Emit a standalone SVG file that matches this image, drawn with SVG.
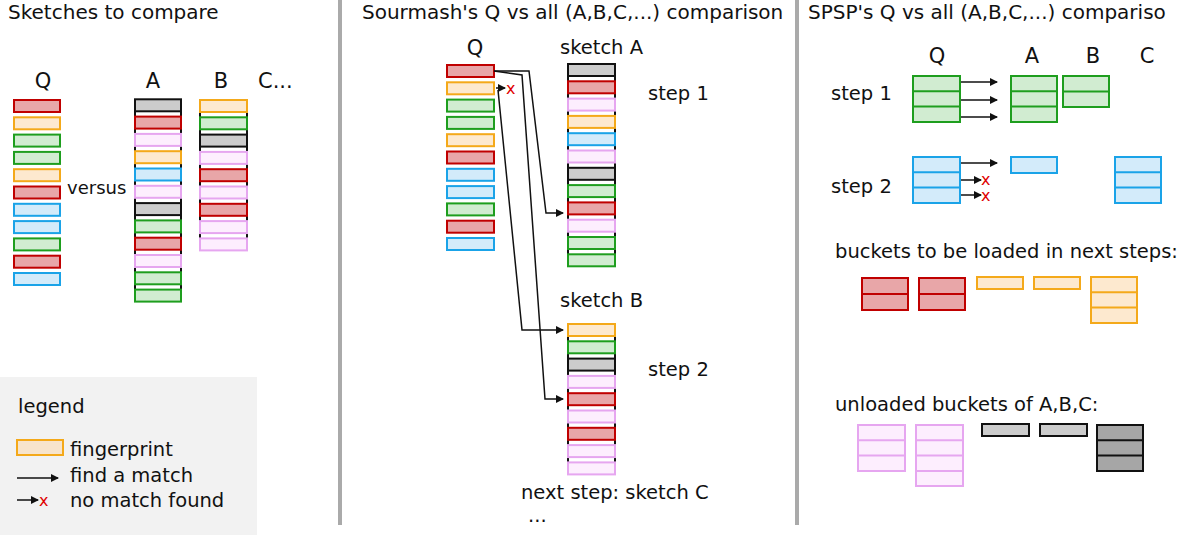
<svg xmlns="http://www.w3.org/2000/svg" width="1200" height="535" viewBox="0 0 1200 535">
<style>
text{font-family:"DejaVu Sans","Liberation Sans",sans-serif;fill:#111}
.t{font-size:19.5px}.h{font-size:20px}.l{font-size:21px}
rect{stroke-width:2}
.r{fill:#e8a6a8;stroke:#c00000}.o{fill:#fde9cf;stroke:#f4a91a}.g{fill:#d1ecd1;stroke:#1e9e1e}
.b{fill:#d3ebfa;stroke:#1aa3e8}.p{fill:#fdeefe;stroke:#e6a6f0}.k{fill:#cccccc;stroke:#111}.d{fill:#a6a6a6;stroke:#111}
.e{stroke:#111;stroke-width:2}
.c{fill:none;stroke:#111;stroke-width:1.5}
.x{fill:#e00000;font-size:16px}
</style>
<defs><marker id="ah" markerWidth="8" markerHeight="8" refX="7" refY="4" orient="auto" markerUnits="userSpaceOnUse"><path d="M0,0L8,4L0,8z" fill="#111"/></marker></defs>
<rect x="0" y="377" width="257" height="158" fill="#f2f2f2" style="stroke:none"/>
<line x1="340" y1="0" x2="340" y2="525" stroke="#aaa" stroke-width="4"/>
<line x1="797" y1="0" x2="797" y2="525" stroke="#aaa" stroke-width="4"/>
<g id="panel1">
<text class="h" x="8" y="19">Sketches to compare</text>
<text class="l" x="43" y="88" text-anchor="middle">Q</text>
<text class="l" x="153" y="88" text-anchor="middle">A</text>
<text class="l" x="221" y="88" text-anchor="middle">B</text>
<text class="l" x="258" y="88">C...</text>
<text x="67" y="194" style="font-size:18px">versus</text>
<g id="q1"><rect class="r" x="14" y="100" width="46" height="12"/><rect class="o" x="14" y="117.3" width="46" height="12"/><rect class="g" x="14" y="134.6" width="46" height="12"/><rect class="g" x="14" y="151.9" width="46" height="12"/><rect class="o" x="14" y="169.2" width="46" height="12"/><rect class="r" x="14" y="186.5" width="46" height="12"/><rect class="b" x="14" y="203.8" width="46" height="12"/><rect class="b" x="14" y="221.1" width="46" height="12"/><rect class="g" x="14" y="238.4" width="46" height="12"/><rect class="r" x="14" y="255.7" width="46" height="12"/><rect class="b" x="14" y="273" width="46" height="12"/></g>
<g id="a1"><line class="e" x1="135" y1="99" x2="135" y2="299"/><line class="e" x1="181" y1="99" x2="181" y2="299"/>
<rect class="k" x="135" y="99.3" width="46" height="12"/><rect class="r" x="135" y="116.6" width="46" height="12"/><rect class="p" x="135" y="133.9" width="46" height="12"/><rect class="o" x="135" y="151.2" width="46" height="12"/><rect class="b" x="135" y="168.5" width="46" height="12"/><rect class="p" x="135" y="185.8" width="46" height="12"/><rect class="k" x="135" y="203.1" width="46" height="12"/><rect class="g" x="135" y="220.4" width="46" height="12"/><rect class="r" x="135" y="237.7" width="46" height="12"/><rect class="p" x="135" y="255" width="46" height="12"/><rect class="g" x="135" y="272.3" width="46" height="12"/><rect class="g" x="135" y="289.6" width="46" height="12"/></g>
<g id="b1"><line class="e" x1="200" y1="100" x2="200" y2="245"/><line class="e" x1="247" y1="100" x2="247" y2="245"/>
<rect class="o" x="200" y="100" width="47" height="12"/><rect class="g" x="200" y="117.3" width="47" height="12"/><rect class="k" x="200" y="134.6" width="47" height="12"/><rect class="p" x="200" y="151.9" width="47" height="12"/><rect class="r" x="200" y="169.2" width="47" height="12"/><rect class="p" x="200" y="186.5" width="47" height="12"/><rect class="r" x="200" y="203.8" width="47" height="12"/><rect class="p" x="200" y="221.1" width="47" height="12"/><rect class="p" x="200" y="238.4" width="47" height="12"/></g>
</g>
<g id="legend">
<text class="t" x="18" y="413">legend</text>
<rect class="o" x="17" y="440" width="46" height="15" style="fill:#f7e4cc"/>
<text class="t" x="70" y="456">fingerprint</text>
<line class="c" x1="17" y1="478" x2="58" y2="478" marker-end="url(#ah)"/>
<text class="t" x="70" y="482">find a match</text>
<line class="c" x1="17" y1="500" x2="38" y2="500" marker-end="url(#ah)"/>
<text class="x" x="39" y="506">x</text>
<text class="t" x="70" y="507">no match found</text>
</g>
<g id="panel2">
<text class="h" x="362" y="19">Sourmash's Q vs all (A,B,C,...) comparison</text>
<text class="l" x="475" y="55" text-anchor="middle">Q</text>
<text class="t" x="560" y="54">sketch A</text>
<text class="t" x="560" y="307">sketch B</text>
<text class="t" x="648" y="100">step 1</text>
<text class="t" x="648" y="376">step 2</text>
<text class="t" x="521" y="499">next step: sketch C</text>
<text class="t" x="528" y="522">...</text>
<g id="q2"><rect class="r" x="447" y="65" width="47" height="12"/><rect class="o" x="447" y="82.3" width="47" height="12"/><rect class="g" x="447" y="99.6" width="47" height="12"/><rect class="g" x="447" y="116.9" width="47" height="12"/><rect class="o" x="447" y="134.2" width="47" height="12"/><rect class="r" x="447" y="151.5" width="47" height="12"/><rect class="b" x="447" y="168.8" width="47" height="12"/><rect class="b" x="447" y="186.1" width="47" height="12"/><rect class="g" x="447" y="203.4" width="47" height="12"/><rect class="r" x="447" y="220.7" width="47" height="12"/><rect class="b" x="447" y="238" width="47" height="12"/></g>
<g id="a2"><line class="e" x1="568" y1="64" x2="568" y2="266"/><line class="e" x1="615" y1="64" x2="615" y2="266"/>
<rect class="k" x="568" y="64" width="47" height="12"/><rect class="r" x="568" y="81.3" width="47" height="12"/><rect class="p" x="568" y="98.6" width="47" height="12"/><rect class="o" x="568" y="115.9" width="47" height="12"/><rect class="b" x="568" y="133.2" width="47" height="12"/><rect class="p" x="568" y="150.5" width="47" height="12"/><rect class="k" x="568" y="167.8" width="47" height="12"/><rect class="g" x="568" y="185.1" width="47" height="12"/><rect class="r" x="568" y="202.4" width="47" height="12"/><rect class="p" x="568" y="219.7" width="47" height="12"/><rect class="g" x="568" y="237" width="47" height="12"/><rect class="g" x="568" y="254.3" width="47" height="12"/></g>
<g id="b2"><line class="e" x1="568" y1="324" x2="568" y2="474"/><line class="e" x1="615" y1="324" x2="615" y2="474"/>
<rect class="o" x="568" y="324" width="47" height="12"/><rect class="g" x="568" y="341.3" width="47" height="12"/><rect class="k" x="568" y="358.6" width="47" height="12"/><rect class="p" x="568" y="375.9" width="47" height="12"/><rect class="r" x="568" y="393.2" width="47" height="12"/><rect class="p" x="568" y="410.5" width="47" height="12"/><rect class="r" x="568" y="427.8" width="47" height="12"/><rect class="p" x="568" y="445.1" width="47" height="12"/><rect class="p" x="568" y="462.4" width="47" height="12"/></g>
</g>
<g id="connectors">
<polyline class="c" points="494,71 529,71 546,213 563,213" marker-end="url(#ah)"/>
<polyline class="c" points="494,71 522,75 545,399 563,399" marker-end="url(#ah)"/>
<polyline class="c" points="498,90 522,330 563,330" marker-end="url(#ah)"/>
<line class="c" x1="496" y1="88" x2="505" y2="88" marker-end="url(#ah)"/>
<line class="c" x1="960" y1="82" x2="997" y2="82" marker-end="url(#ah)"/>
<line class="c" x1="960" y1="100" x2="997" y2="100" marker-end="url(#ah)"/>
<line class="c" x1="960" y1="117" x2="997" y2="117" marker-end="url(#ah)"/>
<line class="c" x1="960" y1="163" x2="997" y2="163" marker-end="url(#ah)"/>
<line class="c" x1="960" y1="180" x2="981" y2="180" marker-end="url(#ah)"/>
<line class="c" x1="960" y1="195" x2="981" y2="195" marker-end="url(#ah)"/>
<text class="x" x="506" y="94">x</text>
<text class="x" x="981" y="185">x</text>
<text class="x" x="981" y="201">x</text>
</g>
<g id="panel3">
<text class="h" x="808" y="19">SPSP's Q vs all (A,B,C,...) compariso</text>
<text class="l" x="937" y="63" text-anchor="middle">Q</text>
<text class="l" x="1032" y="63" text-anchor="middle">A</text>
<text class="l" x="1093" y="63" text-anchor="middle">B</text>
<text class="l" x="1147" y="63" text-anchor="middle">C</text>
<text class="t" x="831" y="100">step 1</text>
<text class="t" x="831" y="193">step 2</text>
<text class="t" x="835" y="258">buckets to be loaded in next steps:</text>
<text class="t" x="835" y="411">unloaded buckets of A,B,C:</text>
<g class="blk">
<rect class="g" x="913" y="76" width="47" height="46"/><line x1="913" y1="91.3" x2="960" y2="91.3" stroke="#1e9e1e" stroke-width="2"/><line x1="913" y1="106.6" x2="960" y2="106.6" stroke="#1e9e1e" stroke-width="2"/>
<rect class="g" x="1011" y="76" width="46" height="46"/><line x1="1011" y1="91.3" x2="1057" y2="91.3" stroke="#1e9e1e" stroke-width="2"/><line x1="1011" y1="106.6" x2="1057" y2="106.6" stroke="#1e9e1e" stroke-width="2"/>
<rect class="g" x="1063" y="76" width="46" height="31"/><line x1="1063" y1="91.5" x2="1109" y2="91.5" stroke="#1e9e1e" stroke-width="2"/>
<rect class="b" x="913" y="157" width="47" height="46"/><line x1="913" y1="172.3" x2="960" y2="172.3" stroke="#1aa3e8" stroke-width="2"/><line x1="913" y1="187.6" x2="960" y2="187.6" stroke="#1aa3e8" stroke-width="2"/>
<rect class="b" x="1011" y="157" width="46" height="16"/>
<rect class="b" x="1115" y="157" width="46" height="46"/><line x1="1115" y1="172.3" x2="1161" y2="172.3" stroke="#1aa3e8" stroke-width="2"/><line x1="1115" y1="187.6" x2="1161" y2="187.6" stroke="#1aa3e8" stroke-width="2"/>
<rect class="r" x="862" y="278" width="46" height="32"/><line x1="862" y1="294" x2="908" y2="294" stroke="#c00000" stroke-width="2"/>
<rect class="r" x="919" y="278" width="46" height="32"/><line x1="919" y1="294" x2="965" y2="294" stroke="#c00000" stroke-width="2"/>
<rect class="o" x="977" y="277" width="46" height="12"/>
<rect class="o" x="1034" y="277" width="46" height="12"/>
<rect class="o" x="1091" y="277" width="46" height="46"/><line x1="1091" y1="292.3" x2="1137" y2="292.3" stroke="#f4a91a" stroke-width="2"/><line x1="1091" y1="307.6" x2="1137" y2="307.6" stroke="#f4a91a" stroke-width="2"/>
<rect class="p" x="858" y="425" width="47" height="46"/><line x1="858" y1="440.3" x2="905" y2="440.3" stroke="#e6a6f0" stroke-width="2"/><line x1="858" y1="455.6" x2="905" y2="455.6" stroke="#e6a6f0" stroke-width="2"/>
<rect class="p" x="916" y="425" width="47" height="61"/><line x1="916" y1="440.3" x2="963" y2="440.3" stroke="#e6a6f0" stroke-width="2"/><line x1="916" y1="455.6" x2="963" y2="455.6" stroke="#e6a6f0" stroke-width="2"/><line x1="916" y1="470.9" x2="963" y2="470.9" stroke="#e6a6f0" stroke-width="2"/>
<rect class="k" x="982" y="424" width="47" height="12"/>
<rect class="k" x="1040" y="424" width="47" height="12"/>
<rect class="d" x="1097" y="425" width="46" height="46"/><line x1="1097" y1="440.3" x2="1143" y2="440.3" stroke="#111" stroke-width="2"/><line x1="1097" y1="455.6" x2="1143" y2="455.6" stroke="#111" stroke-width="2"/>
</g>
</g>
</svg>
